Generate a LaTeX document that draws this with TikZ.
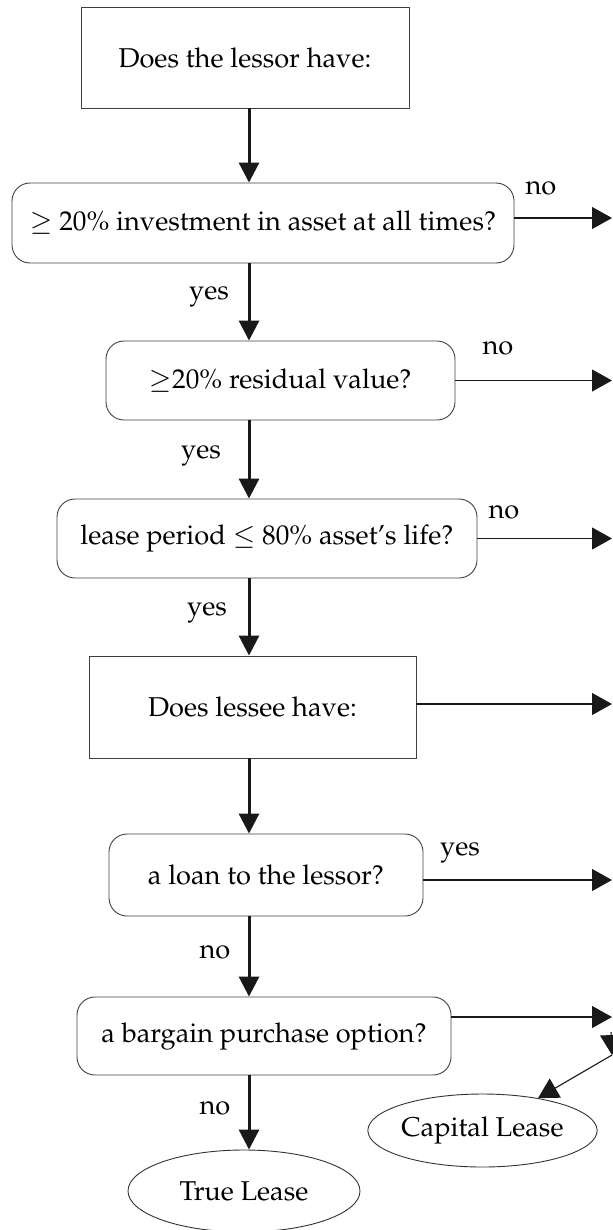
\documentclass[tikz,border=0pt]{standalone}
\usepackage[T1]{fontenc}
\usepackage{mathpazo}
\usetikzlibrary{arrows.meta,shapes.geometric}

\begin{document}
\begin{tikzpicture}[
  x=0.5pt, y=-0.5pt,
  font=\fontsize{13.6}{16}\selectfont,
  sq/.style={draw=black!75, line width=0.45pt, inner sep=0pt, align=center},
  rd/.style={sq, rounded corners=9pt},
  ov/.style={draw=black!80, line width=0.45pt, ellipse, inner sep=0pt},
  down/.style={-{Triangle[length=10pt,width=10pt]}, line width=1.5pt, black!90},
  side/.style={-{Triangle[length=10pt,width=11pt]}, line width=0.55pt, black!90},
]
\useasboundingbox (0,0) rectangle (612,1230);
\coordinate (spine) at (249,0);
\coordinate (rim) at (612,0);

% questions
\node[sq, minimum width=164pt, minimum height=50.5pt] (lessor) at (245,57.5) {Does the lessor have:};
\node[rd, minimum width=251pt, minimum height=40pt] (invest) at (263,223) {$\geq$ 20\% investment in asset at all times?};
\node[rd, minimum width=174.5pt, minimum height=39.5pt] (resid) at (280.5,380.5) {$\geq$20\% residual value?};
\node[rd, minimum width=210pt, minimum height=39.5pt] (period) at (267,538.5) {lease period $\leq$ 80\% asset's life?};
\node[sq, minimum width=163.5pt, minimum height=51pt] (lessee) at (252.5,707) {Does lessee have:};
\node[rd, minimum width=157pt, minimum height=41pt] (loan) at (266,875) {a loan to the lessor?};
\node[rd, minimum width=187pt, minimum height=39pt] (bargain) at (264,1036) {a bargain purchase option?};

% outcomes
\node[ov, minimum width=116pt, minimum height=41pt] (true) at (244,1191) {True Lease};
\node[ov, minimum width=106.5pt, minimum height=36.5pt] (capital) at (482.5,1130.5) {Capital Lease};

% main column
\draw[down] (lessor.south -| spine) -- (invest.north -| spine);
\draw[down] (invest.south -| spine) -- (resid.north -| spine);
\draw[down] (resid.south -| spine) -- (period.north -| spine);
\draw[down] (period.south -| spine) -- (lessee.north -| spine);
\draw[down] (lessee.south -| spine) -- (loan.north -| spine);
\draw[down] (loan.south -| spine) -- (bargain.north -| spine);
\draw[down] (bargain.south -| spine) -- (true.north -| spine);

% exits to the right
\draw[side] ([yshift=2.5pt]invest.east) -- ([yshift=2.5pt]invest.east -| rim);
\draw[side] (resid.east) -- (resid.east -| rim);
\draw[side] (period.east) -- (period.east -| rim);
\draw[side] ([yshift=1.5pt]lessee.east) -- ([yshift=1.5pt]lessee.east -| rim);
\draw[side] ([yshift=-2.5pt]loan.east) -- ([yshift=-2.5pt]loan.east -| rim);
\draw[side] ([yshift=9.5pt]bargain.east) -- ([yshift=9.5pt]bargain.east -| rim);

\coordinate (drop) at (611,1032);
\coordinate (join) at (612,1055);
\draw[side] (drop) -- (join);
\draw[side] (join) -- (capital);

% labels
\node (n1) at (541,188) {no};
\node (y1) at (209,297) {yes};
\node (n2) at (498,348) {no};
\node (y2) at (201,456) {yes};
\node (n3) at (504,512) {no};
\node (y3) at (207,613) {yes};
\node (y4) at (460,853) {yes};
\node (n4) at (215,952) {no};
\node (n5) at (215,1108) {no};
\end{tikzpicture}
\end{document}
